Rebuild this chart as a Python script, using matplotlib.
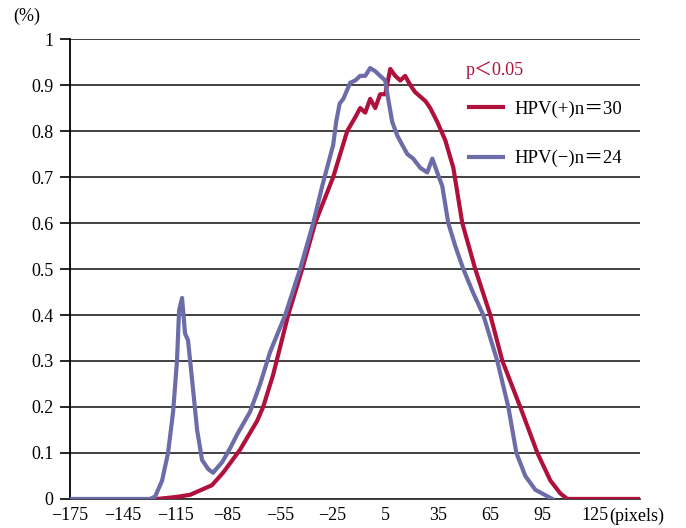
import matplotlib.pyplot as plt

plt.rcParams['font.family'] = ['Liberation Serif', 'Noto Sans CJK JP']

# HPV(+) profile
pos_x = [-125.3, -115.0, -106.4, -93.9, -87.6, -77.9, -68.1, -64.7, -59.0, -50.4,
         -42.4, -35.0, -24.7, -16.7, -12.1, -9.3, -6.4, -3.6, -0.7, 2.1,
         5.0, 7.9, 10.7, 13.6, 16.4, 19.3, 22.0, 25.0, 28.0, 30.7,
         34.7, 39.3, 43.9, 49.0, 56.4, 65.0, 71.9, 82.1, 91.9, 99.3,
         105.0, 109.0, 150.0]
pos_y = [0.0, 0.004, 0.009, 0.03, 0.057, 0.107, 0.17, 0.2, 0.27, 0.4,
         0.5, 0.6, 0.7, 0.8, 0.83, 0.85, 0.84, 0.87, 0.85, 0.88,
         0.88, 0.935, 0.92, 0.91, 0.92, 0.90, 0.885, 0.875, 0.865, 0.85,
         0.82, 0.78, 0.72, 0.6, 0.5, 0.4, 0.3, 0.2, 0.1, 0.04,
         0.012, 0.0, 0.0]

# HPV(-) profile
neg_x = [-175.0, -129.3, -126.4, -122.4, -119.0, -116.1, -113.9, -112.7, -111.0, -109.3,
         -107.6, -105.3, -102.4, -99.6, -96.1, -93.3, -90.4, -88.1, -83.6, -79.6,
         -72.1, -66.4, -60.7, -52.1, -43.6, -36.1, -31.0, -24.7, -23.0, -21.0,
         -18.9, -15.0, -12.1, -9.3, -6.4, -3.6, -0.7, 2.1, 5.0, 6.7,
         9.0, 11.9, 14.7, 17.6, 21.0, 25.0, 29.0, 31.9, 34.7, 37.6,
         41.0, 45.0, 49.6, 55.0, 61.0, 69.0, 75.3, 79.9, 85.0, 90.7,
         100.4]
neg_y = [0.0, 0.0, 0.005, 0.04, 0.10, 0.19, 0.30, 0.41, 0.437, 0.36,
         0.345, 0.26, 0.15, 0.085, 0.065, 0.057, 0.07, 0.08, 0.11, 0.14,
         0.19, 0.25, 0.32, 0.40, 0.50, 0.60, 0.68, 0.77, 0.82, 0.86,
         0.87, 0.905, 0.91, 0.92, 0.92, 0.937, 0.93, 0.92, 0.91, 0.87,
         0.82, 0.79, 0.77, 0.75, 0.74, 0.72, 0.71, 0.74, 0.71, 0.68,
         0.60, 0.55, 0.50, 0.45, 0.40, 0.30, 0.20, 0.10, 0.05, 0.02,
         0.0]

x_ticks = [-175, -145, -115, -85, -55, -25, 5, 35, 65, 95, 125]
y_ticks = [0, 0.1, 0.2, 0.3, 0.4, 0.5, 0.6, 0.7, 0.8, 0.9, 1]
y_labels = ['0', '0.1', '0.2', '0.3', '0.4', '0.5', '0.6', '0.7', '0.8', '0.9', '1']

red = '#B0103C'
blue = '#6C6CA8'

fig = plt.figure(figsize=(6.86, 5.28), dpi=100)
ax = fig.add_axes([0.102, 0.055, 0.831, 0.871])

ax.plot(pos_x, pos_y, color=red, lw=3, label='HPV(+)n＝30', zorder=3)
ax.plot(neg_x, neg_y, color=blue, lw=3, label='HPV(−)n＝24', zorder=4)

ax.set_xlim(-175, 150.5)
ax.set_ylim(0, 1)
ax.set_yticks(y_ticks)
ax.set_yticklabels(y_labels)
ax.set_xticks(x_ticks)
ax.tick_params(axis='y', length=7, width=1.2, labelsize=13, pad=5)
ax.tick_params(axis='x', length=0, labelsize=13, pad=6)

ax.grid(axis='y', color='#333333', lw=1.3, zorder=1)
for s in ['top', 'right']:
    ax.spines[s].set_visible(False)
ax.spines['left'].set_linewidth(1.3)
ax.spines['bottom'].set_linewidth(1.3)
ax.spines['bottom'].set_color('#333333')

ax.text(-0.075, 1.05, '(%)', transform=ax.transAxes, fontsize=13, ha='center', va='center')
ax.text(0.995, -0.037, '(pixels)', transform=ax.transAxes, fontsize=13, ha='center', va='center')

ax.text(50.7, 0.932, 'p＜0.05', color=red, fontsize=13, va='center')
ax.legend(loc='upper left', bbox_to_anchor=(0.70, 0.866), frameon=False, fontsize=13.5,
          handlelength=1.8, handletextpad=0.6, labelspacing=1.7,
          borderpad=0, borderaxespad=0)

plt.savefig('out.png', dpi=100)
